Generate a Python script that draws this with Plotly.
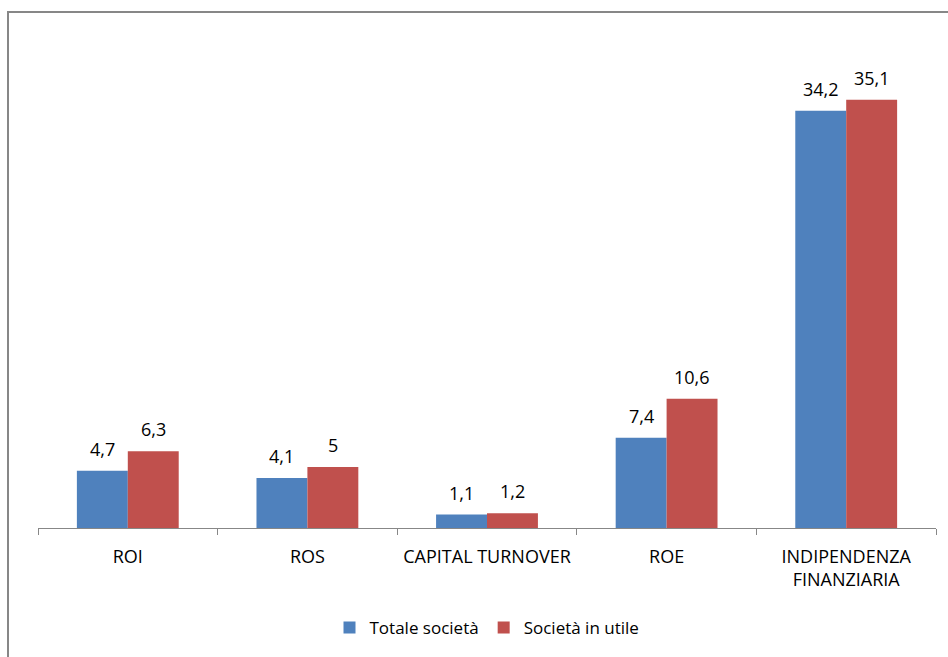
import plotly.graph_objects as go

categories = ["ROI", "ROS", "CAPITAL TURNOVER", "ROE", "INDIPENDENZA<br>FINANZIARIA"]
totale = [4.7, 4.1, 1.1, 7.4, 34.2]
utile = [6.3, 5.0, 1.2, 10.6, 35.1]
series_names = ["Totale società", "Società in utile"]
colors = ["#4F81BD", "#C0504D"]

FONT = "Open Sans, sans-serif"
FS = 18

fig = go.Figure()
for name, vals, col in zip(series_names, [totale, utile], colors):
    fig.add_trace(go.Bar(x=categories, y=vals, name=name, marker=dict(color=col, line=dict(width=0))))

def fmt(v):
    s = ("%.1f" % v).replace(".", ",")
    return s[:-2] if s.endswith(",0") else s

for shift, vals in zip([-25.5, 25.5], [totale, utile]):
    for c, v in zip(categories, vals):
        fig.add_annotation(x=c, y=v, text=fmt(v), showarrow=False, xshift=shift,
                           yanchor="bottom", yshift=8,
                           font=dict(family=FONT, size=FS, color="#000000"))

L, R, T, B = 38, 12, 40, 128
W, H = 948, 657
pw, ph = W - L - R, H - T - B
fig.add_shape(type="rect", xref="paper", yref="paper",
              x0=(8 - L) / pw, x1=(W + 5 - L) / pw,
              y0=-(B + 5) / ph, y1=(H - B - 12) / ph,
              line=dict(color="#878787", width=2), fillcolor="rgba(0,0,0,0)", layer="below")

fig.update_layout(
    width=W, height=H,
    margin=dict(l=L, r=R, t=T, b=B),
    paper_bgcolor="white", plot_bgcolor="white",
    barmode="group", bargap=0.433, bargroupgap=0,
    font=dict(family=FONT, size=FS, color="#000000"),
    showlegend=True,
    legend=dict(orientation="h", x=0.5, xanchor="center", y=-0.2025, yanchor="middle",
                font=dict(family=FONT, size=FS - 1), itemwidth=30, traceorder="normal"),
    xaxis=dict(showline=True, linecolor="#878787", linewidth=1, ticks="outside",
               tickson="boundaries", ticklen=6, tickcolor="#878787",
               ticklabelstandoff=12,
               showgrid=False, tickfont=dict(family=FONT, size=FS)),
    yaxis=dict(visible=False, range=[0, 40], showgrid=False),
)

fig.write_html("out.html")
